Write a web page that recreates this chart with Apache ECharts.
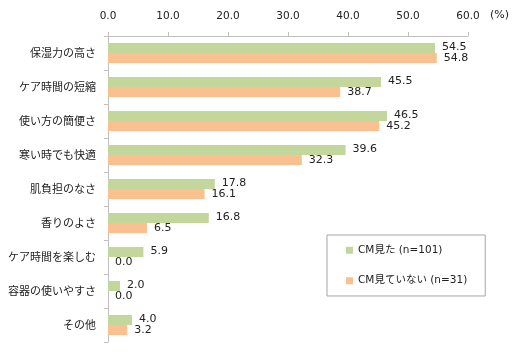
<!DOCTYPE html>
<html><head><meta charset="utf-8">
<script src="https://cdn.jsdelivr.net/npm/echarts@6/dist/echarts.min.js"></script>
<style>html,body{margin:0;padding:0;background:#fff}#c{width:526px;height:356px}</style>
</head><body><div id="c"></div>
<script>
const categories = ['保湿力の高さ','ケア時間の短縮','使い方の簡便さ','寒い時でも快適','肌負担のなさ','香りのよさ','ケア時間を楽しむ','容器の使いやすさ','その他'];
const seriesNames = ['CM見た (n=101)','CM見ていない (n=31)'];
const seen = [54.5, 45.5, 46.5, 39.6, 17.8, 16.8, 5.9, 2.0, 4.0];
const notSeen = [54.8, 38.7, 45.2, 32.3, 16.1, 6.5, 0.0, 0.0, 3.2];
const xTicks = [0, 10, 20, 30, 40, 50, 60];

const cjk = "'Noto Sans CJK JP', sans-serif";
const num = "'DejaVu Sans', 'Noto Sans CJK JP', sans-serif";
const chart = echarts.init(document.getElementById('c'));
chart.setOption({
  animation: false,
  textStyle: {fontFamily: num},
  grid: {left: 108, right: 58, top: 36, bottom: 14},
  xAxis: {
    type: 'value', position: 'top', min: xTicks[0], max: xTicks[xTicks.length-1], interval: 10,
    axisLine: {show: true, lineStyle: {color: '#bfbfbf'}},
    axisTick: {show: true, length: 4, lineStyle: {color: '#bfbfbf'}},
    splitLine: {show: false},
    axisLabel: {color: '#222', fontSize: 10.5, margin: 14, formatter: v => v.toFixed(1), fontFamily: num}
  },
  yAxis: {
    type: 'category', data: categories, inverse: true,
    axisLine: {show: true, lineStyle: {color: '#bfbfbf'}},
    axisTick: {show: true, length: 4, lineStyle: {color: '#bfbfbf'}},
    axisLabel: {color: '#222', fontSize: 11, margin: 12, fontFamily: cjk}
  },
  legend: {
    orient: 'vertical', left: 327, top: 235,
    data: seriesNames, itemWidth: 7, itemHeight: 7, itemGap: 20, icon: 'rect',
    padding: [10, 18, 10, 19],
    borderColor: '#a6a6a6', borderWidth: 1,
    textStyle: {color: '#222', fontSize: 10.5, fontFamily: num}
  },
  graphic: [{type: 'text', left: 490, top: 10, style: {text: '(%)', fill: '#222', font: '11px ' + num}}],
  series: [
    {name: seriesNames[0], type: 'bar', data: seen, barWidth: 10, barGap: '0%',
     itemStyle: {color: '#C3D69B'},
     label: {show: true, position: 'right', distance: 7, offset: [0, -1], color: '#222', fontSize: 11, formatter: p => p.value.toFixed(1), fontFamily: num}},
    {name: seriesNames[1], type: 'bar', data: notSeen, barWidth: 10,
     itemStyle: {color: '#FAC090'},
     label: {show: true, position: 'right', distance: 7, offset: [0, 0], color: '#222', fontSize: 11, formatter: p => p.value.toFixed(1), fontFamily: num}}
  ]
});
</script></body></html>
